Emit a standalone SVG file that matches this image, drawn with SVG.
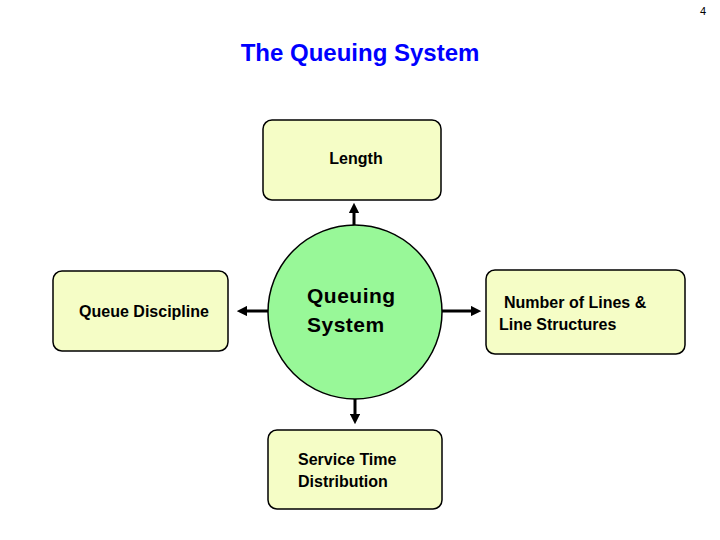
<svg xmlns="http://www.w3.org/2000/svg" width="720" height="540" viewBox="0 0 720 540">
<style>
text{font-family:"Liberation Sans",Arial,sans-serif;fill:#000}
.box{fill:#F5FDC6;stroke:#000;stroke-width:1.5}
.lbl{font-size:16px;font-weight:bold}
.c{stroke:#000;stroke-width:3;fill:none;marker-end:url(#ah)}
</style>
<defs><marker id="ah" viewBox="0 0 10 10" refX="5" refY="5" markerWidth="3.5" markerHeight="3.5" orient="auto"><path d="M0,0 L10,5 L0,10 z" fill="#000"/></marker></defs>
<rect width="720" height="540" fill="#fff"/>
<text x="700" y="15" font-size="11">4</text>
<text x="360" y="61" font-size="24" font-weight="bold" style="fill:#0000FF" text-anchor="middle">The Queuing System</text>
<g id="connectors">
<line class="c" x1="354" y1="228" x2="354" y2="208"/>
<line class="c" x1="268" y1="311" x2="242" y2="311"/>
<line class="c" x1="442" y1="311" x2="476" y2="311"/>
<line class="c" x1="355" y1="399" x2="355" y2="419"/>
</g>
<g id="center"><circle cx="355" cy="312" r="87" fill="#98F898" stroke="#000" stroke-width="1.5"/>
<text x="307" y="303" font-size="21" font-weight="bold" letter-spacing="0.5">Queuing</text>
<text x="307" y="332" font-size="21" font-weight="bold" letter-spacing="0.5">System</text></g>
<g id="length"><rect class="box" x="263" y="120" width="178" height="80" rx="9"/><text class="lbl" x="356" y="164" text-anchor="middle">Length</text></g>
<g id="discipline"><rect class="box" x="53" y="271" width="175" height="80" rx="9"/><text class="lbl" x="144" y="317" text-anchor="middle">Queue Discipline</text></g>
<g id="lines"><rect class="box" x="486" y="270" width="199" height="84" rx="9"/><text class="lbl" x="504" y="308">Number of Lines &amp;</text><text class="lbl" x="499" y="330">Line Structures</text></g>
<g id="service"><rect class="box" x="268" y="430" width="174" height="79" rx="9"/><text class="lbl" x="298" y="465">Service Time</text><text class="lbl" x="298" y="487">Distribution</text></g>
</svg>
